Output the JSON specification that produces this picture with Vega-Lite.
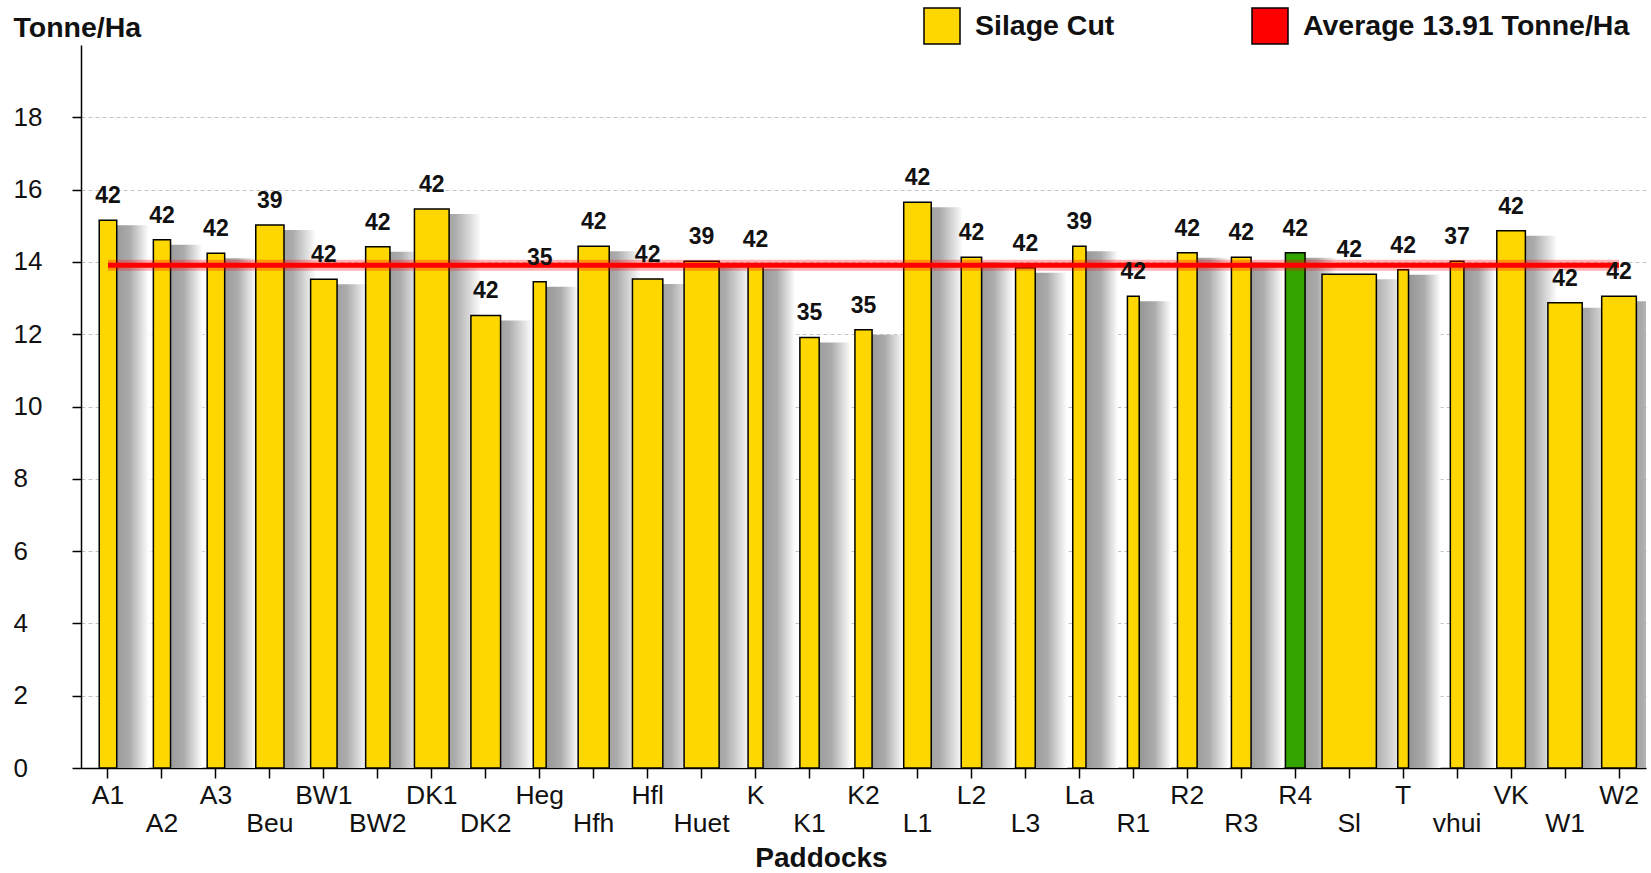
{
  "$schema": "https://vega.github.io/schema/vega-lite/v6.json",
  "width": 1565,
  "height": 723,
  "autosize": {"type": "none"},
  "padding": {"left": 81, "top": 45, "right": 5, "bottom": 105},
  "background": "white",
  "config": {
    "font": "Liberation Sans",
    "view": {"stroke": null},
    "axis": {"labelColor": "#111", "titleColor": "#111", "domainColor": "#000", "tickColor": "#000", "domainWidth": 1.5, "tickWidth": 1.5}
  },
  "data": {
    "values": [
      {"Paddock": "A1", "Tonnes": 15.15, "Days": 42, "Area": 0.98, "Series": "Silage Cut", "Average": 13.91},
      {"Paddock": "A2", "Tonnes": 14.61, "Days": 42, "Area": 0.96, "Series": "Silage Cut", "Average": 13.91},
      {"Paddock": "A3", "Tonnes": 14.24, "Days": 42, "Area": 0.98, "Series": "Silage Cut", "Average": 13.91},
      {"Paddock": "Beu", "Tonnes": 15.02, "Days": 39, "Area": 1.58, "Series": "Silage Cut", "Average": 13.91},
      {"Paddock": "BW1", "Tonnes": 13.52, "Days": 42, "Area": 1.48, "Series": "Silage Cut", "Average": 13.91},
      {"Paddock": "BW2", "Tonnes": 14.42, "Days": 42, "Area": 1.36, "Series": "Silage Cut", "Average": 13.91},
      {"Paddock": "DK1", "Tonnes": 15.46, "Days": 42, "Area": 1.94, "Series": "Silage Cut", "Average": 13.91},
      {"Paddock": "DK2", "Tonnes": 12.52, "Days": 42, "Area": 1.66, "Series": "Silage Cut", "Average": 13.91},
      {"Paddock": "Heg", "Tonnes": 13.45, "Days": 35, "Area": 0.72, "Series": "Silage Cut", "Average": 13.91},
      {"Paddock": "Hfh", "Tonnes": 14.43, "Days": 42, "Area": 1.74, "Series": "Silage Cut", "Average": 13.91},
      {"Paddock": "Hfl", "Tonnes": 13.53, "Days": 42, "Area": 1.70, "Series": "Silage Cut", "Average": 13.91},
      {"Paddock": "Huet", "Tonnes": 14.02, "Days": 39, "Area": 1.96, "Series": "Silage Cut", "Average": 13.91},
      {"Paddock": "K", "Tonnes": 13.95, "Days": 42, "Area": 0.84, "Series": "Silage Cut", "Average": 13.91},
      {"Paddock": "K1", "Tonnes": 11.91, "Days": 35, "Area": 1.08, "Series": "Silage Cut", "Average": 13.91},
      {"Paddock": "K2", "Tonnes": 12.12, "Days": 35, "Area": 0.96, "Series": "Silage Cut", "Average": 13.91},
      {"Paddock": "L1", "Tonnes": 15.65, "Days": 42, "Area": 1.54, "Series": "Silage Cut", "Average": 13.91},
      {"Paddock": "L2", "Tonnes": 14.13, "Days": 42, "Area": 1.14, "Series": "Silage Cut", "Average": 13.91},
      {"Paddock": "L3", "Tonnes": 13.84, "Days": 42, "Area": 1.10, "Series": "Silage Cut", "Average": 13.91},
      {"Paddock": "La", "Tonnes": 14.43, "Days": 39, "Area": 0.74, "Series": "Silage Cut", "Average": 13.91},
      {"Paddock": "R1", "Tonnes": 13.05, "Days": 42, "Area": 0.66, "Series": "Silage Cut", "Average": 13.91},
      {"Paddock": "R2", "Tonnes": 14.25, "Days": 42, "Area": 1.10, "Series": "Silage Cut", "Average": 13.91},
      {"Paddock": "R3", "Tonnes": 14.13, "Days": 42, "Area": 1.10, "Series": "Silage Cut", "Average": 13.91},
      {"Paddock": "R4", "Tonnes": 14.25, "Days": 42, "Area": 1.10, "Series": "Silage Cut", "Average": 13.91},
      {"Paddock": "Sl", "Tonnes": 13.66, "Days": 42, "Area": 3.04, "Series": "Silage Cut", "Average": 13.91},
      {"Paddock": "T", "Tonnes": 13.78, "Days": 42, "Area": 0.60, "Series": "Silage Cut", "Average": 13.91},
      {"Paddock": "vhui", "Tonnes": 14.02, "Days": 37, "Area": 0.76, "Series": "Silage Cut", "Average": 13.91},
      {"Paddock": "VK", "Tonnes": 14.86, "Days": 42, "Area": 1.60, "Series": "Silage Cut", "Average": 13.91},
      {"Paddock": "W1", "Tonnes": 12.87, "Days": 42, "Area": 1.92, "Series": "Silage Cut", "Average": 13.91},
      {"Paddock": "W2", "Tonnes": 13.05, "Days": 42, "Area": 1.94, "Series": "Silage Cut", "Average": 13.91}
    ]
  },
  "encoding": {
    "x": {
      "field": "Paddock", "type": "nominal", "sort": null,
      "scale": {"type": "band", "paddingInner": 0, "paddingOuter": 0},
      "axis": {
        "title": "Paddocks", "titleFontSize": 28, "titleFontWeight": "bold",
        "titleX": 740, "titleY": 90, "titleBaseline": "middle", "titleAnchor": null,
        "labelAngle": 0, "labelFontSize": 26.5, "labelPadding": 4, "tickSize": 10,
        "labelLineHeight": 28, "labelBaseline": "top",
        "labelExpr": "indexof(['A2','Beu','BW2','DK2','Hfh','Huet','K1','L1','L3','R1','R3','Sl','vhui','W1'], datum.value) >= 0 ? ['', datum.value] : datum.value"
      }
    },
    "y": {
      "field": "Tonnes", "type": "quantitative",
      "scale": {"domain": [0, 20], "nice": false},
      "axis": {
        "title": "Tonne/Ha", "titleAngle": 0, "titleX": -68, "titleY": -18,
        "titleAlign": "left", "titleBaseline": "middle", "titleFontSize": 28.5, "titleFontWeight": "bold",
        "values": [0, 2, 4, 6, 8, 10, 12, 14, 16, 18],
        "labelAlign": "left", "labelPadding": 59, "tickSize": 9, "labelFontSize": 26,
        "grid": true, "gridDash": [4, 3], "gridColor": "#c4c4c4", "gridWidth": 1
      }
    }
  },
  "layer": [
    {
      "mark": {
        "type": "bar", "xOffset": 17, "yOffset": 5, "clip": true,
        "fill": {"gradient": "linear", "x1": 0, "y1": 0, "x2": 1, "y2": 0,
          "stops": [{"offset": 0, "color": "#888888"}, {"offset": 0.6, "color": "#ababab"}, {"offset": 1, "color": "#ffffff"}]}
      },
      "encoding": {
        "size": {"field": "Area", "type": "quantitative", "scale": {"domain": [0, 3], "range": [30, 83.6]}, "legend": null}
      }
    },
    {
      "mark": {"type": "bar", "stroke": "#000", "strokeWidth": 1.5},
      "encoding": {
        "size": {"field": "Area", "type": "quantitative", "scale": {"domain": [0, 3], "range": [0, 53.6]}, "legend": null},
        "color": {
          "field": "Series", "type": "nominal",
          "condition": {"test": "datum.Paddock === 'R4'", "value": "#33a300"},
          "scale": {"domain": ["Silage Cut", "Average 13.91 Tonne/Ha"], "range": ["#ffd700", "#ff0000"]},
          "legend": {
            "title": null, "orient": "none", "legendX": 842, "legendY": -38, "direction": "horizontal",
            "symbolType": "square", "symbolSize": 1296, "symbolStrokeColor": "#000", "symbolStrokeWidth": 1.5,
            "symbolOpacity": 1,
            "labelFontSize": 28.5, "labelFontWeight": "bold", "labelColor": "#111", "labelOffset": 14,
            "columnPadding": 134, "padding": 0, "labelLimit": 500
          }
        }
      }
    },
    {
      "mark": {"type": "line", "strokeWidth": 11, "opacity": 0.3, "stroke": "#ff0000"},
      "encoding": {"y": {"field": "Average", "type": "quantitative"}}
    },
    {
      "mark": {"type": "line", "strokeWidth": 5, "stroke": "#ff0000"},
      "encoding": {"y": {"field": "Average", "type": "quantitative"}}
    },
    {
      "mark": {"type": "text", "fontSize": 23, "fontWeight": "bold", "color": "#111", "baseline": "alphabetic", "dy": -17},
      "encoding": {"text": {"field": "Days", "type": "quantitative"}}
    }
  ],
  "resolve": {"scale": {"size": "independent"}}
}
